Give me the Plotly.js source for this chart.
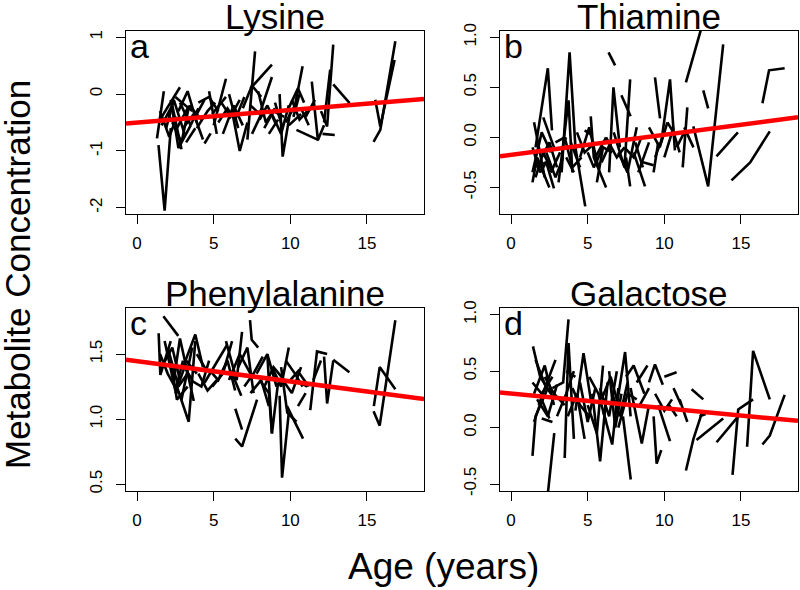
<!DOCTYPE html>
<html>
<head>
<meta charset="utf-8">
<script src="https://cdn.plot.ly/plotly-3.0.1.min.js"></script>
<style>
  body { margin: 0; background: #fff; }
  #chart { width: 800px; height: 590px; }
</style>
</head>
<body>
<div id="chart"></div>
<script>
// each inner array is one subject: ages and metabolite values
const lysineAges = [[1.4, 1.8, 2.2], [1.3, 1.75], [1.5, 2.8], [1.6, 2.3, 2.9], [2.0, 2.6, 3.3], [2.2, 2.7, 3.5], [2.5, 3.6], [2.7, 3.3, 3.9], [3.0, 3.7, 4.3], [3.4, 4.2], [3.2, 3.8], [4.0, 4.7, 5.3], [4.4, 4.8], [5.0, 5.8], [4.9, 5.8], [5.5, 6.1, 6.7], [6.2, 6.7, 7.2], [6.0, 6.6], [7.2, 7.7], [7.4, 8.8], [7.4, 8.0, 8.8], [7.5, 8.2], [8.0, 8.5, 9.1], [8.3, 8.9, 9.6], [9.0, 9.5], [9.3, 9.5, 10.0], [9.7, 10.3, 10.8], [9.8, 10.5], [10.2, 10.6], [10.4, 11.85], [11.4, 11.8, 12.2], [12.0, 12.4, 12.8], [12.2, 12.6], [12.1, 12.9], [12.8, 13.87], [11.0, 11.6], [10.7, 11.2], [15.43, 15.87, 16.85], [15.54, 15.87, 16.8], [4.7, 5.2], [3.7, 4.4], [5.3, 5.9, 6.4], [8.6, 9.2], [9.9, 10.7], [6.9, 7.5, 8.1],
  [1.5, 2.1, 2.6], [1.9, 2.4, 3.1], [2.3, 2.9, 3.4], [2.8, 3.5, 4.0], [3.9, 4.6, 5.1], [5.6, 6.3, 6.9], [6.4, 7.0], [7.9, 8.4, 9.0], [8.8, 9.4, 9.9], [10.1, 10.6, 11.1], [10.5, 10.9]];
const lysineVals = [[-0.9, -2.05, -0.6], [-0.78, 0.05], [-0.45, 0.12], [-0.55, -0.2, -0.97], [-0.35, -0.6, -0.25], [-0.1, -0.95, -0.55], [-0.05, -0.3], [-0.3, 0.05, -0.5], [-0.6, -0.35, -0.8], [-0.2, -0.45], [-0.85, -0.6], [-0.15, -0.05, -0.3], [-0.87, -0.69], [-0.55, 0.27], [-0.35, -0.05], [-0.15, -0.4, -0.1], [-0.3, -1.0, -0.5], [0.0, -0.6], [-0.8, 0.75], [0.1, 0.52], [-0.2, -0.35, 0.3], [-0.7, -0.3], [-0.45, -0.2, -0.55], [-0.6, -0.3, -0.4], [-0.15, -0.6], [0.0, -1.1, -0.3], [-0.5, -0.2, 0.49], [-0.3, 0.1], [-0.4, 0.0], [-0.63, -0.81], [0.22, -0.81, -0.55], [-0.3, -0.57, 0.87], [-0.5, 0.43], [-0.7, -0.72], [0.17, -0.16], [-0.4, -0.1], [-0.25, -0.55], [-0.84, -0.63, 0.93], [-0.1, -0.57, 0.6], [0.05, -0.7], [-0.45, -0.1], [-0.5, -0.25, -0.45], [-0.7, -0.45], [-0.55, -0.35], [-0.25, 0.15, -0.05],
  [-0.3, -0.75, -0.4], [-0.6, -0.1, -0.7], [-0.5, -0.85, -0.2], [-0.15, -0.55, -0.25], [-0.6, -0.3, -0.15], [-0.7, -0.2, -0.55], [-0.45, -0.05], [0.05, -0.5, -0.25], [-0.35, -0.7, -0.2], [-0.1, -0.45, -0.3], [0.1, -0.15]];

const thiamineAges = [[1.4, 2.0, 2.6], [1.5, 2.2], [1.4, 1.7, 2.5], [1.6, 2.4, 2.67], [2.0, 2.5, 3.0], [1.5, 2.3, 2.8], [2.1, 2.8], [2.6, 3.2], [3.3, 3.82, 4.2], [3.4, 3.6], [3.1, 3.75, 4.0], [3.9, 4.5], [4.2, 4.84], [4.3, 4.8, 5.5], [4.8, 5.3], [5.2, 5.4, 6.2], [5.5, 6.2], [5.9, 6.5], [6.36, 6.79], [6.4, 6.68, 7.1], [6.7, 7.4, 7.77], [7.2, 7.8], [7.5, 7.77], [7.0, 7.6, 8.2], [8.0, 8.74], [8.1, 8.6], [8.6, 9.3], [9.39, 9.72], [9.4, 10.0], [9.3, 9.6], [9.8, 10.37, 10.69], [10.2, 10.6, 11.0], [11.2, 11.5], [11.3, 11.9], [11.89, 12.86, 13.84], [11.41, 12.43], [12.54, 12.86], [13.4, 14.8], [14.38, 15.6, 16.88], [16.4, 16.83, 17.85], [10.8, 11.3], [5.0, 5.4, 6.0], [3.6, 4.1], [2.9, 3.5],
  [1.4, 1.9, 2.3], [1.6, 2.1, 2.7], [2.3, 2.9, 3.4], [3.5, 4.0, 4.6], [4.5, 5.1, 5.7], [5.6, 6.0, 6.6], [6.2, 6.9, 7.4], [7.4, 8.0, 8.5], [8.3, 9.0], [9.0, 9.7, 10.2], [10.0, 10.6]];
const thiamineVals = [[-0.35, 0.05, -0.15], [0.15, -0.4], [-0.45, -0.2, -0.5], [-0.1, 0.69, 0.07], [-0.2, -0.05, -0.3], [-0.3, -0.25, -0.51], [0.2, -0.1], [-0.35, -0.15], [-0.35, 0.85, -0.1], [-0.05, 0.0], [-0.45, 0.37, -0.35], [-0.05, -0.3], [-0.1, -0.69], [0.05, -0.15, -0.05], [0.07, 0.02], [0.21, -0.2, -0.5], [-0.2, 0.0], [-0.25, -0.05], [0.85, 0.72], [-0.35, 0.5, -0.1], [0.05, -0.3, 0.58], [0.42, 0.21], [-0.2, -0.49], [-0.15, -0.35, 0.1], [-0.15, -0.49], [-0.05, -0.3], [-0.25, -0.28], [0.6, 0.19], [-0.2, 0.05], [-0.35, -0.05], [-0.05, 0.58, -0.13], [0.15, 0.05, -0.15], [-0.3, 0.3], [0.1, -0.1], [0.11, -0.49, 0.93], [0.55, 1.1], [0.47, 0.29], [-0.19, 0.05], [-0.43, -0.25, 0.06], [0.34, 0.67, 0.69], [-0.1, 0.05], [-0.15, -0.3, -0.1], [-0.2, -0.35], [-0.05, 0.0],
  [-0.1, -0.35, -0.25], [-0.4, -0.15, -0.35], [-0.15, -0.4, -0.2], [0.0, -0.3, -0.2], [-0.2, 0.1, -0.3], [-0.45, -0.1, -0.15], [0.0, -0.2, -0.1], [-0.1, -0.2, 0.0], [-0.35, -0.05], [0.1, -0.1, 0.15], [-0.2, 0.1]];

const phenylAges = [[1.72, 2.69], [1.41, 1.52, 2.2], [1.5, 2.0, 2.7], [1.8, 2.5, 3.0], [2.2, 2.6, 3.3], [2.4, 2.8, 3.7], [2.6, 3.37, 3.8], [2.9, 3.6], [3.0, 3.8, 4.3], [3.5, 4.2, 4.7], [4.0, 4.6, 5.2], [4.4, 5.0, 5.87], [4.9, 5.6, 6.2], [5.4, 5.9, 6.4], [5.8, 6.5, 6.85], [6.41, 6.85], [6.41, 6.85, 7.83], [6.2, 6.8], [6.6, 7.2, 7.6], [7.37, 7.48, 7.9], [7.0, 7.6, 8.2], [7.8, 8.5, 9.1], [8.0, 8.6, 8.8], [8.5, 8.8, 9.2], [8.8, 9.4, 9.9], [9.3, 9.46, 9.9], [9.4, 9.8, 10.4], [9.78, 10.83], [9.7, 10.3, 10.8], [10.0, 10.6], [10.4, 11.1], [11.3, 11.74, 12.4], [11.5, 12.0], [12.2, 12.4, 12.8], [12.8, 13.85], [15.43, 15.83, 16.85], [15.45, 15.83, 16.85], [10.5, 11.0], [3.9, 4.5],
  [1.6, 2.3, 2.8], [2.0, 2.7, 3.3], [2.5, 3.1, 3.6], [3.2, 3.9], [4.7, 5.3, 5.9], [6.0, 6.7, 7.4], [7.4, 8.1, 8.6], [8.3, 8.9, 9.6], [9.5, 10.1, 10.7], [10.6, 11.2]];
const phenylVals = [[1.79, 1.64], [1.66, 1.34, 1.6], [1.5, 1.35, 1.2], [1.6, 1.22, 1.45], [1.45, 1.15, 1.25], [1.3, 1.62, 1.14], [1.25, 0.98, 1.6], [1.15, 1.55], [1.4, 1.65, 1.4], [1.3, 1.25, 1.45], [1.35, 1.22, 1.3], [1.28, 1.4, 1.57], [1.25, 1.35, 1.6], [1.33, 1.45, 1.22], [1.6, 1.3, 1.67], [1.08, 0.92], [0.85, 0.79, 1.15], [1.35, 1.18], [1.4, 1.55, 1.2], [1.76, 1.61, 1.55], [1.25, 1.35, 1.48], [1.35, 1.5, 1.25], [1.3, 1.2, 0.89], [1.5, 0.89, 1.28], [1.4, 1.25, 1.55], [1.18, 0.55, 1.05], [1.4, 1.05, 0.98], [1.1, 0.85], [1.45, 1.35, 1.25], [1.3, 1.38], [1.3, 1.25], [1.07, 1.52, 1.5], [1.3, 1.45], [1.48, 1.12, 1.45], [1.456, 1.36], [1.06, 0.95, 1.76], [1.1, 1.4, 1.23], [1.1, 1.2], [1.5, 1.38],
  [1.4, 1.55, 1.3], [1.55, 1.25, 1.35], [1.2, 1.4, 1.3], [1.45, 1.35], [1.38, 1.3, 1.45], [1.3, 1.5, 1.35], [1.2, 1.3, 1.1], [1.25, 1.4, 1.3], [1.3, 1.2, 1.4], [1.35, 1.25]];

const galactoseAges = [[1.4, 1.6, 2.4], [1.43, 1.9, 2.6], [1.5, 2.2, 2.8], [1.5, 2.0, 2.5], [1.6, 2.3], [1.8, 2.5, 2.9], [2.35, 2.82], [2.0, 2.7], [2.7, 3.4, 3.75], [3.5, 3.75, 4.1], [3.6, 4.2], [3.7, 4.3, 4.8], [4.2, 4.73, 5.2], [4.5, 5.0, 5.5], [5.0, 5.6, 6.0], [5.3, 5.81, 6.3], [5.8, 6.4, 6.9], [6.0, 6.6, 7.0], [6.4, 6.8, 7.2], [6.9, 7.44, 7.8], [7.3, 7.81], [7.5, 8.0, 8.7], [7.8, 8.53, 9.0], [8.2, 8.9], [9.0, 9.39, 9.9], [9.3, 9.5, 9.8], [9.6, 10.37], [10.0, 10.8], [10.3, 10.8], [10.6, 11.1], [11.41, 11.9, 12.5], [11.78, 12.54], [12.1, 13.84], [13.41, 14.82], [14.45, 14.82, 15.79], [15.4, 15.79, 16.88], [16.4, 16.88, 17.85], [11.0, 11.5], [12.3, 12.7],
  [1.4, 2.0, 2.7], [1.7, 2.4, 3.0], [2.2, 2.8, 3.5], [3.0, 3.6, 4.1], [4.0, 4.5, 5.1], [5.1, 5.7, 6.2], [5.9, 6.5, 7.0], [6.6, 7.1, 7.6], [7.0, 7.6, 8.2], [8.4, 9.0], [9.4, 10.0, 10.5]];
const galactoseVals = [[-0.25, 0.1, 0.35], [0.72, 0.45, 0.3], [0.3, 0.55, 0.2], [0.05, 0.25, 0.08], [0.6, 0.35], [0.2, 0.45, 0.6], [-0.65, -0.05], [0.08, 0.05], [0.35, 0.4, 0.96], [-0.27, 0.75, -0.1], [0.5, 0.45], [0.1, 0.3, -0.1], [0.15, 0.66, 0.25], [0.4, 0.05, 0.35], [0.2, -0.05, 0.55], [0.3, -0.3, 0.4], [0.35, 0.1, 0.5], [0.15, -0.15, 0.35], [0.5, 0.0, 0.3], [0.2, 0.67, 0.1], [0.1, -0.46], [0.45, 0.55, 0.3], [0.35, -0.14, 0.2], [0.4, 0.55], [0.4, 0.56, 0.38], [0.1, -0.32, -0.2], [0.2, -0.12], [0.45, 0.49], [0.2, 0.1], [0.35, 0.2], [-0.38, -0.1, 0.15], [0.34, 0.25], [-0.11, 0.08], [-0.13, 0.1], [-0.42, 0.16, 0.25], [-0.17, 0.68, 0.25], [-0.15, -0.07, 0.29], [0.25, 0.05], [0.1, 0.12],
  [0.4, 0.3, 0.45], [0.25, 0.1, 0.38], [0.45, 0.3, 0.2], [0.1, 0.3, 0.5], [0.35, 0.2, 0.1], [0.45, 0.3, 0.05], [0.25, 0.45, 0.2], [0.3, 0.1, 0.4], [0.0, 0.3, 0.25], [0.2, 0.35], [0.3, 0.15, 0.25]];

// fitted population trend per panel (a, b, c, d)
const trendIntercepts = [-0.5, -0.174, 1.445, 0.301];
const trendSlopes = [0.022, 0.02, -0.0155, -0.0129];

const panelNames = ["Lysine", "Thiamine", "Phenylalanine", "Galactose"];
const panelLetters = ["a", "b", "c", "d"];
const xTicks = [0, 5, 10, 15];
const yTicks = [[-2, -1, 0, 1], [-0.5, 0, 0.5, 1], [0.5, 1, 1.5], [-0.5, 0, 0.5, 1]];
const yTickText = [["-2", "-1", "0", "1"], ["-0.5", "0.0", "0.5", "1.0"], ["0.5", "1.0", "1.5"], ["-0.5", "0.0", "0.5", "1.0"]];
const yRanges = [[-2.11, 1.11], [-0.766, 1.063], [0.448, 1.854], [-0.562, 1.06]];
const xRange = [-0.72, 18.72];

const allAges = [lysineAges, thiamineAges, phenylAges, galactoseAges];
const allVals = [lysineVals, thiamineVals, phenylVals, galactoseVals];

const W = 800, H = 590;
const FONT = "Liberation Sans, Arial, sans-serif";
// panel boxes in pixels: [left, right, top, bottom]
const boxes = [[126, 424, 31, 214], [500, 798, 31, 214], [126, 424, 308, 491], [500, 798, 308, 491]];

function spaghetti(ages, vals) {
  let x = [], y = [];
  for (let i = 0; i < ages.length; i++) {
    x = x.concat(ages[i], [null]);
    y = y.concat(vals[i], [null]);
  }
  return { x: x, y: y };
}

let data = [];
let layout = {
  width: W, height: H,
  margin: { l: 0, r: 0, t: 0, b: 0 },
  paper_bgcolor: "white",
  plot_bgcolor: "white",
  showlegend: false,
  font: { family: FONT, color: "black" },
  annotations: []
};

for (let p = 0; p < 4; p++) {
  const sfx = p === 0 ? "" : String(p + 1);
  const s = spaghetti(allAges[p], allVals[p]);
  data.push({
    x: s.x, y: s.y, xaxis: "x" + sfx, yaxis: "y" + sfx,
    type: "scatter", mode: "lines", hoverinfo: "skip",
    line: { color: "black", width: 2.6 }
  });
  data.push({
    x: xRange,
    y: xRange.map(v => trendIntercepts[p] + trendSlopes[p] * v),
    xaxis: "x" + sfx, yaxis: "y" + sfx,
    type: "scatter", mode: "lines", hoverinfo: "skip",
    line: { color: "#ff0000", width: 4.5 }
  });

  const b = boxes[p];
  layout["xaxis" + sfx] = {
    domain: [b[0] / W, b[1] / W], range: xRange, anchor: "y" + sfx,
    tickvals: xTicks, ticktext: xTicks.map(String),
    ticks: "outside", ticklen: 9, tickwidth: 1, tickcolor: "black",
    ticklabelstandoff: 5,
    showline: true, mirror: true, linecolor: "black", linewidth: 1,
    showgrid: false, zeroline: false,
    tickfont: { family: FONT, size: 17, color: "black" }
  };
  layout["yaxis" + sfx] = {
    domain: [1 - b[3] / H, 1 - b[2] / H], range: yRanges[p], anchor: "x" + sfx,
    tickvals: yTicks[p], ticktext: yTickText[p], tickangle: -90,
    ticks: "outside", ticklen: 9, tickwidth: 1, tickcolor: "black",
    ticklabelstandoff: 7,
    showline: true, mirror: true, linecolor: "black", linewidth: 1,
    showgrid: false, zeroline: false,
    tickfont: { family: FONT, size: 17, color: "black" }
  };

  // panel title
  layout.annotations.push({
    text: panelNames[p], xref: "paper", yref: "paper",
    x: (b[0] + b[1]) / 2 / W, y: 1 - (b[2] - 15) / H,
    xanchor: "center", yanchor: "middle", showarrow: false,
    font: { family: FONT, size: 35, color: "black" }
  });
  // panel letter
  layout.annotations.push({
    text: panelLetters[p], xref: "paper", yref: "paper",
    x: (b[0] + 2) / W, y: 1 - (b[2] + 15) / H,
    xanchor: "left", yanchor: "middle", showarrow: false,
    font: { family: FONT, size: 34, color: "black" }
  });
}

layout.annotations.push({
  text: "Age (years)", xref: "paper", yref: "paper",
  x: 443 / W, y: 1 - 566 / H, xanchor: "center", yanchor: "middle",
  showarrow: false, font: { family: FONT, size: 37, color: "black" }
});
layout.annotations.push({
  text: "Metabolite Concentration", xref: "paper", yref: "paper",
  x: 17 / W, y: 1 - 275 / H, xanchor: "center", yanchor: "middle",
  textangle: -90, showarrow: false,
  font: { family: FONT, size: 35, color: "black" }
});

Plotly.newPlot("chart", data, layout, { staticPlot: true, displayModeBar: false });
</script>
</body>
</html>
